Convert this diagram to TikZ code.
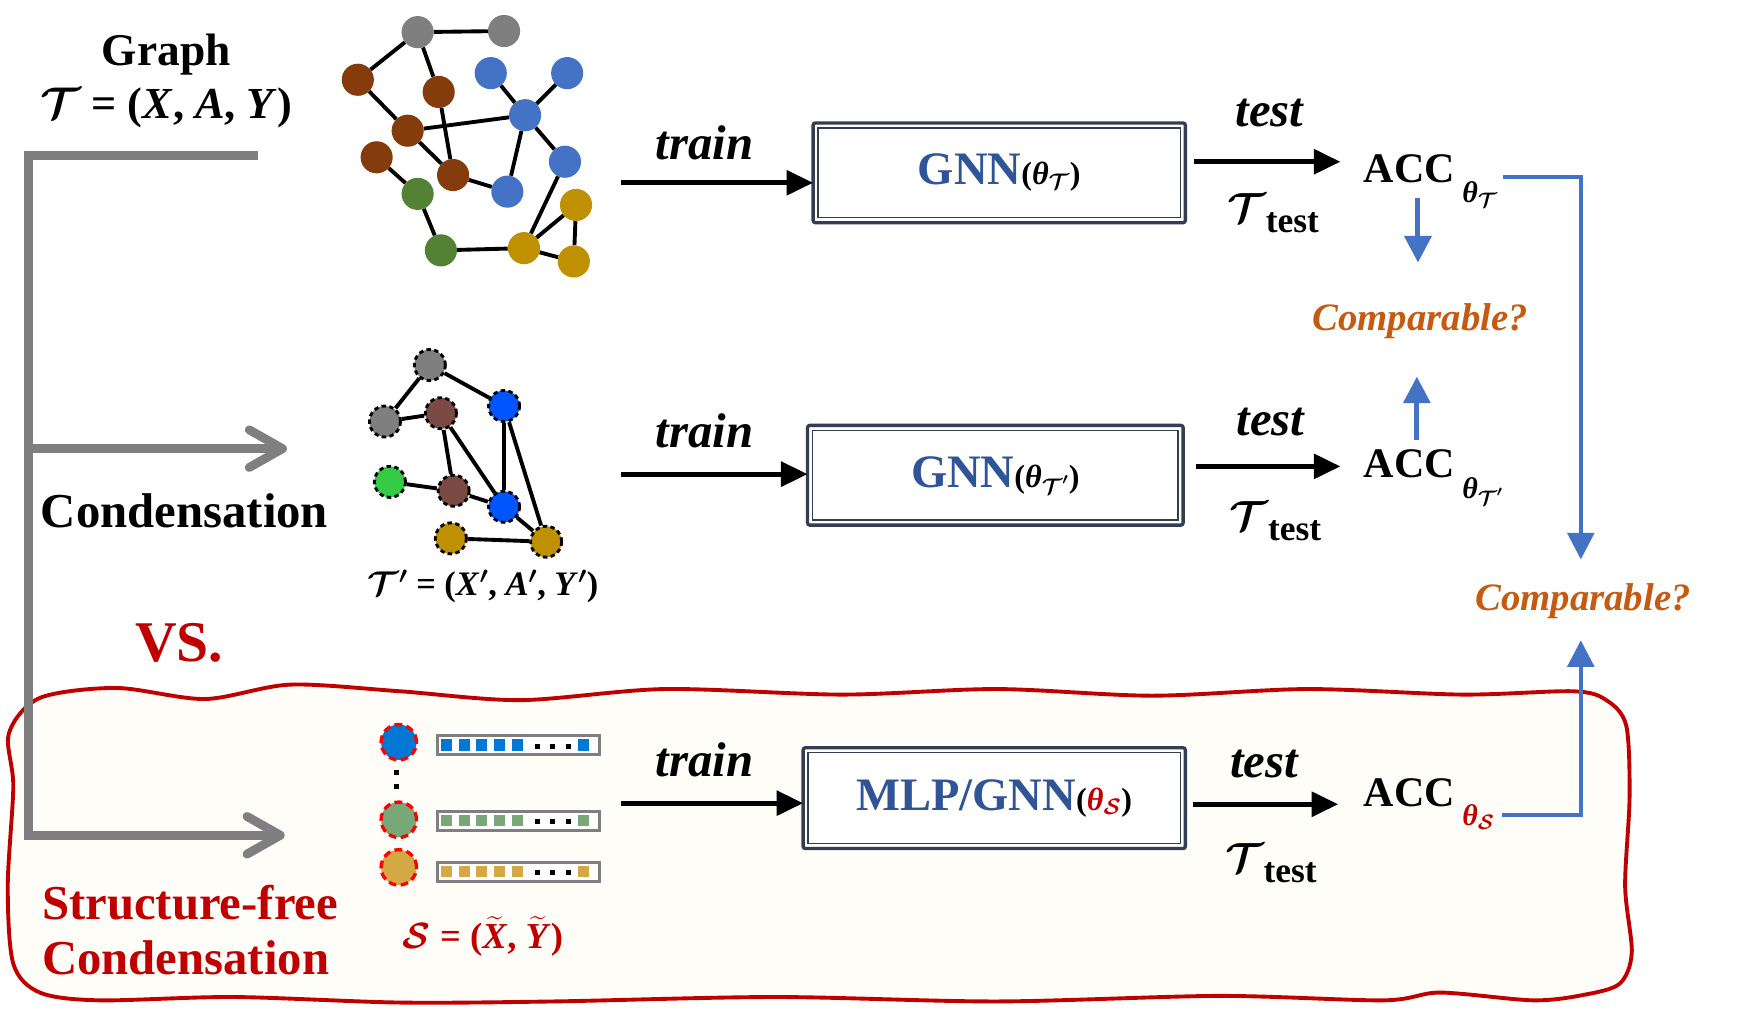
\RequirePackage{fix-cm}
\documentclass[tikz,border=0pt]{standalone}
\usepackage{fontspec}
\setmainfont{Liberation Serif}
\usepackage{amsmath,bm}
\usetikzlibrary{arrows.meta,calc}
\newcommand\myfs[1]{\fontsize{#1}{#1}\selectfont}
\newcommand\bix[1]{\textbf{\textit{#1}}}
\newcommand\calT{$\bm{\mathcal{T}}$}
\newcommand\bth{\mbox{\bfseries\itshape θ}}
\newcommand\bpr{$^{\bm{\prime}}$}
\definecolor{dred}{HTML}{C00000}
\definecolor{tblue}{HTML}{2F5597}
\definecolor{orng}{HTML}{C55A11}
\definecolor{lblue}{HTML}{4472C4}
\definecolor{slate}{HTML}{333F50}
\definecolor{cream}{HTML}{FFFDF8}
\definecolor{ggray}{HTML}{7F7F7F}
\definecolor{nbrown}{HTML}{843C0C}
\definecolor{nblue}{HTML}{4472C4}
\definecolor{ngreen}{HTML}{548235}
\definecolor{ngold}{HTML}{BF9000}
\definecolor{cbrown}{HTML}{7B4A44}
\definecolor{cblue}{HTML}{0055FF}
\definecolor{cgreen}{HTML}{33CC44}
\definecolor{sblue}{HTML}{0078D4}
\definecolor{sgreen}{HTML}{78A878}
\definecolor{sgold}{HTML}{D4A843}
\tikzset{
  gn/.style={circle,fill=#1,minimum size=29pt,inner sep=0pt},
  cn/.style={circle,fill=#1,minimum size=28pt,inner sep=0pt,draw=black,line width=2.6pt,dash pattern=on 4pt off 3pt},
  sn/.style={circle,fill=#1,minimum size=32pt,inner sep=0pt,draw=red,line width=3pt,dash pattern=on 7pt off 4pt},
  gedge/.style={line width=3.5pt},
  garrow/.style={draw=ggray,line width=8pt,-{Straight Barb[length=30pt,width=34pt,round]}},
  barrow/.style={line width=4.5pt,-{Triangle[length=24pt,width=22pt]}},
  blarrow/.style={draw=lblue,line width=4.5pt,-{Triangle[length=24pt,width=24pt]}},
  modbox/.style={draw=slate,line width=3pt,rounded corners=2pt,fill=white,outer sep=0pt,inner sep=0pt,minimum height=90pt},
  lbl/.style={inner sep=0pt,outer sep=0pt},
  bar/.style={draw=ggray,line width=2.5pt,fill=white,minimum width=146pt,minimum height=17pt,inner sep=0pt},
  sq/.style={fill=#1,minimum size=10pt,inner sep=0pt},
  dotsq/.style={fill=black,minimum size=4.5pt,inner sep=0pt}
}
\begin{document}
\begin{tikzpicture}[x=1pt,y=-1pt]
\useasboundingbox[fill=white] (0,0) rectangle (1568,918);

% structure-free background
\draw[draw=dred,line width=3.5pt,fill=cream,smooth cycle,tension=0.5] plot coordinates {
 (36,630) (105,621) (185,631) (262,618) (361,624) (470,632) (600,622) (760,627) (900,622) (1040,628) (1180,622) (1320,627) (1420,624) (1450,632) (1468,655) (1471,720) (1467,800) (1473,860) (1462,888) (1430,898) (1384,903) (1300,896) (1249,903) (1100,899) (900,904) (700,900) (500,904) (361,905) (211,900) (90,903) (36,896) (12,870) (7,800) (12,710) (8,662)};

% gray bracket
\coordinate (gtop) at (233,140);
\coordinate (gcor) at (26,140);
\coordinate (gmid) at (26,405);
\coordinate (gend2) at (259,405);
\coordinate (gend3) at (257,754);
\draw[garrow] (gtop) -- (gcor) |- (gend3);
\draw[garrow] (gmid) -- (gend2);

% labels left
\node[lbl,anchor=base,font=\myfs{41}\bfseries] (glabel) at (150,59) {Graph};
\node[lbl,anchor=base,font=\myfs{40}] (gform) at (150,107) {\calT\ \textbf{= (}\bix{X}\textbf{, }\bix{A}\textbf{, }\bix{Y}\textbf{)}};
\node[lbl,anchor=base west,font=\myfs{44}\bfseries] (cond) at (37,476) {Condensation};
\node[lbl,anchor=base west,font=\myfs{52}\bfseries,text=dred] (vs) at (122,597) {VS.};
\node[lbl,anchor=base west,font=\myfs{44}\bfseries,text=dred] (sf1) at (38,830) {Structure-free};
\node[lbl,anchor=base west,font=\myfs{44}\bfseries,text=dred] (sf2) at (38,880) {Condensation};

% graph 1
\node[gn=ggray] (ga) at (377,29) {};
\node[gn=ggray] (gb) at (455,28) {};
\node[gn=nbrown] (br1) at (323,72) {};
\node[gn=nbrown] (br2) at (396,83) {};
\node[gn=nbrown] (br3) at (368,118) {};
\node[gn=nbrown] (br4) at (340,142) {};
\node[gn=nbrown] (br5) at (409,158) {};
\node[gn=nblue] (bl1) at (443,66) {};
\node[gn=nblue] (bl2) at (512,66) {};
\node[gn=nblue] (bl3) at (474,104) {};
\node[gn=nblue] (bl4) at (510,146) {};
\node[gn=nblue] (bl5) at (458,173) {};
\node[gn=ngreen] (gr1) at (377,175) {};
\node[gn=ngreen] (gr2) at (398,226) {};
\node[gn=ngold] (go1) at (520,185) {};
\node[gn=ngold] (go2) at (473,224) {};
\node[gn=ngold] (go3) at (518,236) {};
\draw[gedge] (ga)--(gb) (ga)--(br1) (ga)--(br2) (br1)--(br3) (br3)--(bl3) (br3)--(br5) (br2)--(br5)
 (bl1)--(bl3) (bl2)--(bl3) (bl3)--(bl5) (bl3)--(bl4) (br5)--(bl5) (br4)--(gr1) (gr1)--(gr2)
 (gr2)--(go2) (bl4)--(go2) (go2)--(go1) (go1)--(go3) (go2)--(go3);

% graph 2
\node[cn=ggray] (ca) at (388,329.5) {};
\node[cn=ggray] (cb) at (347.5,380.5) {};
\node[cn=cbrown] (cr1) at (398,373) {};
\node[cn=cblue] (cu1) at (455,366.5) {};
\node[cn=cgreen] (cg) at (352,435) {};
\node[cn=cbrown] (cr2) at (409.5,443) {};
\node[cn=cblue] (cu2) at (455,457.5) {};
\node[cn=ngold] (co1) at (407,486) {};
\node[cn=ngold] (co2) at (493,489) {};
\draw[gedge] (ca)--(cb) (ca)--(cu1) (cb)--(cr1) (cr1)--(cr2) (cr1)--(cu2) (cu1)--(cu2) (cu1)--(co2)
 (cg)--(cr2) (cr2)--(cu2) (cu2)--(co2) (co1)--(co2);
\node[lbl,anchor=base,font=\myfs{31}] (cform) at (436,538) {\calT\bpr\ \textbf{= (}\bix{X}\bpr\textbf{, }\bix{A}\bpr\textbf{, }\bix{Y}\bpr\textbf{)}};

% structure-free set
\node[sn=sblue] (s1) at (360,670) {};
\node[sn=sgreen] (s2) at (360,740) {};
\node[sn=sgold] (s3) at (360,783) {};
\node[dotsq] (sd1) at (358,697) {};
\node[dotsq] (sd2) at (358,710) {};
\foreach \n/\yy/\c in {1/672.5/sblue,2/741/sgreen,3/787/sgold}{
  \node[bar] (bar\n) at (468,\yy) {};
  \foreach \xx in {403,419,435,451,467,527} \node[sq=\c] at (\xx,\yy) {};
  \foreach \xx in {485,499,513} \node[dotsq] at (\xx,\yy+1) {};
}
\node[lbl,anchor=base,text=dred,font=\myfs{33}] (sform) at (436,856) {$\bm{\mathcal{S}}$\ \textbf{= (}$\widetilde{\mbox{\bix{X}}}$\textbf{, }$\widetilde{\mbox{\bix{Y}}}$\textbf{)}};

% model boxes
\node[modbox,minimum width=336pt] (b1) at (902,156) {{\color{tblue}\myfs{42}\bfseries GNN}{\myfs{29}\textbf{(}\bth$_{\bm{\mathcal{T}}}$\textbf{)}}};
\node[modbox,minimum width=339pt] (b2) at (898.5,429) {{\color{tblue}\myfs{42}\bfseries GNN}{\myfs{29}\textbf{(}\bth$_{\bm{\mathcal{T}'}}$\textbf{)}}};
\node[modbox,minimum width=345pt,minimum height=91pt] (b3) at (897.5,720.5) {{\color{tblue}\myfs{42}\bfseries MLP/GNN}{\myfs{29}\textbf{(}\textcolor{dred}{\bth$_{\bm{\mathcal{S}}}$}\textbf{)}}};
\foreach \b in {b1,b2,b3}
  \draw[draw=slate,line width=1.2pt] ([xshift=4.5pt,yshift=-4.5pt]\b.north west) rectangle ([xshift=-4.5pt,yshift=4.5pt]\b.south east);

% train arrows
\coordinate (t1) at (561,165);
\coordinate (t2) at (561,428);
\coordinate (t3) at (561,725);
\draw[barrow] (t1) -- (t1 -| b1.west);
\draw[barrow] (t2) -- (t2 -| b2.west);
\draw[barrow] (t3) -- (t3 -| b3.west);
\node[lbl,anchor=base,font=\myfs{44}\bfseries\itshape] (tr1) at (636,144) {train};
\node[lbl,anchor=base,font=\myfs{44}\bfseries\itshape] (tr2) at (636,404) {train};
\node[lbl,anchor=base,font=\myfs{44}\bfseries\itshape] (tr3) at (636,701) {train};

% ACC
\node[lbl,anchor=base west,font=\myfs{38}\bfseries] (acc1) at (1231,165) {ACC};
\node[lbl,anchor=base west,font=\myfs{38}\bfseries] (acc2) at (1231,431) {ACC};
\node[lbl,anchor=base west,font=\myfs{38}\bfseries] (acc3) at (1231,728) {ACC};
\node[lbl,anchor=base west,font=\myfs{27}] (th1) at (1320,183) {\bth$_{\bm{\mathcal{T}}}$};
\node[lbl,anchor=base west,font=\myfs{27}] (th2) at (1320,450) {\bth$_{\bm{\mathcal{T}'}}$};
\node[lbl,anchor=base west,font=\myfs{27},text=dred] (th3) at (1320,745) {\bth$_{\bm{\mathcal{S}}}$};

% test arrows
\coordinate (e1) at (1078,146);
\coordinate (e2) at (1080,421);
\coordinate (e3) at (1077,726);
\draw[barrow,shorten >=21pt] (e1) -- (e1 -| acc1.west);
\draw[barrow,shorten >=21pt] (e2) -- (e2 -| acc2.west);
\draw[barrow,shorten >=23pt] (e3) -- (e3 -| acc3.west);
\node[lbl,anchor=base,font=\myfs{44}\bfseries\itshape] (te1) at (1146,114) {test};
\node[lbl,anchor=base,font=\myfs{44}\bfseries\itshape] (te2) at (1147,393) {test};
\node[lbl,anchor=base,font=\myfs{44}\bfseries\itshape] (te3) at (1141,702) {test};
\node[lbl,anchor=base west] (ts1) at (1108,201) {{\myfs{38}\calT}\raisebox{-9pt}{\myfs{32}\bfseries test}};
\node[lbl,anchor=base west] (ts2) at (1110,479) {{\myfs{38}\calT}\raisebox{-9pt}{\myfs{32}\bfseries test}};
\node[lbl,anchor=base west] (ts3) at (1106,788) {{\myfs{38}\calT}\raisebox{-9pt}{\myfs{32}\bfseries test}};

% comparable
\node[lbl,anchor=base,font=\myfs{35}\bfseries\itshape,text=orng] (cmp1) at (1282,298) {Comparable?};
\node[lbl,anchor=base,font=\myfs{35}\bfseries\itshape,text=orng] (cmp2) at (1429,551) {Comparable?};
\coordinate (d1s) at (1280,179);
\coordinate (d1e) at (1280,237);
\coordinate (u1s) at (1279,397);
\coordinate (u1e) at (1279,340);
\draw[blarrow] (d1s) -- (d1e);
\draw[blarrow] (u1s) -- (u1e);
\coordinate (r1s) at (1357,160);
\coordinate (r1e) at (1427,505);
\coordinate (r3s) at (1356,736);
\coordinate (r3e) at (1427,578);
\draw[blarrow,line width=3.5pt] (r1s) -| (r1e);
\draw[blarrow,line width=3.5pt] (r3s) -| (r3e);
\end{tikzpicture}
\end{document}
